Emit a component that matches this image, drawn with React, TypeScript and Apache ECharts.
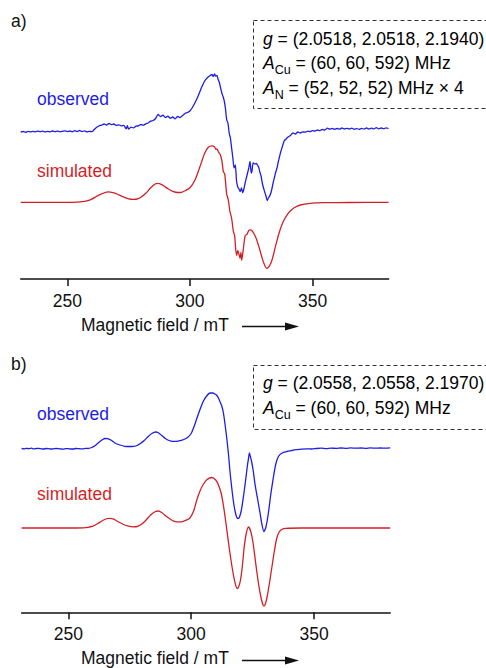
import React, { useEffect, useRef } from "react";
import * as echarts from "echarts";

// Magnetic field (mT) axis
const TICKS = [250, 300, 350];
const X_MIN = 231;
const X_MAX = 381;

// Panel a) – observed EPR spectrum [field mT, intensity a.u.]
const OBS_A: number[][] = [
  [231, 0.0], [232, 0.05], [233, -0.03], [234, 0.06], [235, 0.01], [236, 0.07], [237, 0.02], [238, 0.09],
  [239, 0.03], [240, 0.08], [241, 0.01], [242, 0.06], [243, 0.02], [244, 0.1], [245, 0.03], [246, 0.09],
  [247, 0.02], [248, 0.07], [249, 0.12], [250, 0.04], [251, 0.1], [252, 0.02], [253, 0.13], [254, 0.05],
  [255, 0.15], [256, 0.04], [257, 0.11], [258, 0.01], [259, 0.07], [260, 0.03], [261, 0.25], [262, 0.48],
  [263, 0.62], [264, 0.68], [265, 0.8], [266, 0.7], [267, 0.85], [268, 0.74], [269, 0.8], [270, 0.66],
  [271, 0.72], [272, 0.62], [273, 0.66], [274, 0.32], [274.5, 0.64], [275, 0.28], [276, 0.48], [277, 0.42],
  [278, 0.58], [279, 0.62], [280, 0.75], [281, 0.68], [282, 0.82], [283, 0.9], [284, 1.08], [285, 1.15],
  [286, 1.35], [287, 1.75], [288, 1.55], [289, 1.68], [290, 1.45], [291, 1.58], [292, 1.38], [293, 1.5],
  [294, 1.32], [295, 1.55], [296, 1.45], [297, 1.65], [298, 1.85], [299, 1.95], [300, 2.1], [301, 2.45],
  [302, 2.9], [303, 3.4], [304, 4.0], [305, 4.6], [306, 5.1], [307, 5.4], [308, 5.6], [309, 5.75],
  [309.5, 5.55], [310, 5.8], [310.5, 5.6], [311, 5.65], [311.5, 5.25], [312, 4.95], [312.5, 4.4], [313, 3.9],
  [313.5, 3.55], [314, 3.1], [314.5, 2.3], [315, 1.2], [315.5, 0.9], [316, -0.1], [316.5, -0.6], [317, -1.6],
  [317.5, -2.6], [318, -3.6], [318.5, -3.3], [319, -4.9], [319.5, -5.5], [320, -5.7], [320.5, -5.95], [321, -5.6],
  [321.5, -6.05], [322, -5.7], [322.5, -5.1], [323, -4.6], [323.5, -4.1], [324, -3.6], [324.5, -2.95], [325, -4.1],
  [325.3, -3.9], [325.8, -3.1], [326.5, -3.2], [327, -3.15], [327.5, -3.3], [328, -3.5], [328.5, -4.0], [329, -4.4],
  [329.5, -5.1], [330, -5.6], [330.5, -6.0], [331, -6.4], [331.5, -6.85], [332, -6.6], [332.5, -6.4], [333, -6.1],
  [333.5, -5.6], [334, -5.0], [334.5, -4.5], [335, -4.0], [335.5, -3.6], [336, -3.0], [336.5, -2.5], [337, -2.0],
  [337.5, -1.6], [338, -1.2], [338.5, -0.85], [339, -0.75], [340, -0.5], [341, -0.35], [342, -0.1], [343, -0.2],
  [344, 0.0], [345, -0.1], [346, 0.02], [347, -0.02], [348, 0.08], [349, 0.04], [350, 0.14], [351, 0.1],
  [352, 0.2], [353, 0.14], [354, 0.25], [355, 0.2], [356, 0.38], [357, 0.28], [358, 0.36], [359, 0.27],
  [360, 0.35], [361, 0.28], [362, 0.4], [363, 0.3], [364, 0.36], [365, 0.3], [366, 0.38], [367, 0.27],
  [368, 0.34], [369, 0.26], [370, 0.36], [371, 0.29], [372, 0.4], [373, 0.3], [374, 0.38], [375, 0.31],
  [376, 0.44], [377, 0.32], [378, 0.4], [379, 0.33], [380, 0.42], [381, 0.35],
];

// Panel a) – simulated spectrum
const SIM_A: number[][] = [
  [231, 0], [240, 0], [250, 0], [254, 0.02], [256, 0.06], [258, 0.15], [260, 0.32], [262, 0.6],
  [264, 0.85], [266.5, 1.05], [269, 0.95], [271, 0.75], [273, 0.52], [275, 0.35], [277, 0.3], [278.5, 0.33],
  [280, 0.5], [282, 0.9], [284, 1.45], [286, 1.85], [287.2, 1.9], [289, 1.7], [291, 1.35], [293, 1.1],
  [295, 0.98], [296.6, 1.0], [298, 1.15], [300, 1.45], [302, 2.2], [304, 3.5], [306, 4.9], [307.5, 5.5],
  [309, 5.65], [310, 5.55], [310.6, 5.3], [311, 5.35], [311.6, 5.05], [312.3, 4.8], [313, 4.2], [313.6, 3.1],
  [314.2, 2.8], [315, 0.8], [315.6, 0.3], [316.3, -0.9], [317, -1.6], [317.7, -2.9], [318.2, -3.3], [318.7, -4.8],
  [319.1, -5.3], [319.5, -4.8], [320, -5.2], [320.4, -5.6], [320.8, -5.0], [321.1, -5.8], [321.6, -5.0], [322.2, -3.8],
  [322.6, -3.3], [323.3, -3.2], [324, -2.8], [324.6, -2.75], [325.3, -2.85], [326, -3.1], [327, -3.6], [328, -4.35],
  [329, -5.2], [330, -6.0], [331.3, -6.6], [332.3, -6.4], [333.3, -5.9], [334.3, -5.0], [335.4, -3.9], [336.7, -2.8],
  [338.1, -1.9], [339.5, -1.3], [340.8, -0.9], [342.5, -0.55], [345, -0.27], [349, -0.1], [355, -0.04], [365, -0.02],
  [381, 0],
];

// Panel b) – observed spectrum
const OBS_B: number[][] = [
  [231, 0.0], [232, -0.03], [233, 0.02], [234, -0.02], [235, 0.03], [236, -0.04], [237, 0.0], [238, 0.01],
  [239, -0.03], [240, -0.05], [241, 0.0], [242, -0.02], [243, -0.05], [244, -0.04], [245, 0.0], [246, -0.02],
  [247, -0.05], [248, -0.06], [249, -0.01], [250, -0.02], [251, -0.05], [252, -0.05], [253, 0.0], [254, -0.01],
  [255, -0.04], [256, -0.04], [257, 0.01], [258, 0.0], [259.5, 0.1], [261, 0.3], [262.5, 0.62], [264, 0.9],
  [265, 1.0], [266, 0.98], [267.5, 0.82], [269, 0.55], [271, 0.35], [273, 0.22], [275, 0.2], [276.5, 0.22],
  [278, 0.3], [279.5, 0.52], [281, 0.82], [282.5, 1.2], [284, 1.5], [285.5, 1.65], [286.5, 1.6], [288, 1.3],
  [289.5, 1.0], [291, 0.8], [292.5, 0.72], [294, 0.72], [295.5, 0.78], [297, 0.9], [298.5, 1.1], [300, 1.5],
  [301.2, 2.2], [302.3, 3.0], [303.6, 3.9], [304.9, 4.7], [306.3, 5.25], [307.7, 5.55], [308.7, 5.55], [309.7, 5.45],
  [310.5, 5.3], [311.2, 5.0], [311.7, 4.7], [312.4, 4.3], [313.1, 3.6], [313.8, 2.4], [314.5, 1.0], [315.2, -0.6],
  [315.8, -2.3], [316.5, -3.9], [317.2, -5.3], [317.9, -6.3], [318.5, -6.85], [319.1, -7.0], [319.6, -6.9], [320.4, -6.2],
  [321.2, -4.95], [322.1, -3.3], [322.9, -1.7], [323.4, -0.9], [323.7, -0.45], [324.1, -0.8], [324.6, -1.3], [325.3, -2.3],
  [326.0, -3.6], [327, -5.0], [328.0, -6.4], [328.8, -7.6], [329.6, -8.3], [330.4, -7.9], [331.4, -6.5], [332.4, -4.6],
  [333.4, -2.98], [334.4, -1.6], [335.5, -0.8], [337, -0.45], [338.9, -0.3], [341, -0.2], [343, -0.12], [345, -0.06],
  [347, -0.03], [349, -0.05], [351, 0.0], [353, 0.03], [355, -0.01], [357, 0.04], [359, 0.01], [361, 0.05],
  [363, 0.02], [365, 0.06], [367, 0.03], [369, 0.05], [371, 0.02], [373, 0.06], [375, 0.03], [377, 0.05],
  [379, 0.04], [381, 0.06],
];

// Panel b) – simulated spectrum
const SIM_B: number[][] = [
  [231, 0], [240, 0], [250, 0], [256, 0.02], [258, 0.06], [260, 0.18], [262, 0.45], [264, 0.75],
  [266, 0.95], [267, 0.97], [268.5, 0.88], [270.5, 0.6], [272.5, 0.35], [274.5, 0.18], [276.5, 0.12], [278, 0.15],
  [279.5, 0.32], [281.5, 0.75], [283.5, 1.3], [285.5, 1.65], [286.6, 1.7], [288, 1.55], [290, 1.15], [292, 0.8],
  [294, 0.62], [296, 0.62], [298, 0.78], [299.5, 1.0], [301, 1.7], [302.3, 2.8], [303.6, 3.7], [304.9, 4.35],
  [306.5, 4.85], [308.4, 5.05], [310, 4.8], [311.1, 4.3], [312.2, 3.5], [313.1, 2.3], [314.1, 0.6], [315.1, -1.3],
  [316.2, -3.2], [317.2, -4.7], [318, -5.6], [318.7, -6.05], [319.3, -5.9], [320, -5.3], [320.8, -3.9], [321.5, -2.1],
  [322.3, -0.7], [323.3, 0.1], [324.2, -0.3], [325.1, -1.35], [325.9, -2.8], [326.7, -4.35], [327.5, -5.7], [328.3, -6.8],
  [329.1, -7.6], [329.6, -7.8], [330.2, -7.6], [330.9, -6.9], [331.8, -5.6], [332.8, -4.0], [333.8, -2.4], [334.8, -1.05],
  [335.8, -0.4], [337, -0.12], [338.5, -0.03], [345, 0], [381, 0],
];

const PANEL_LABELS = ["a)", "b)"];
const TRACE_LABELS = ["observed", "simulated"];
const AXIS_NAME = "Magnetic field / mT";

const FONT = "'Liberation Sans', Arial, Helvetica, sans-serif";
const BLUE = "#1d1de8";
const RED = "#d21f26";
const INK = "#111111";
const FS = 17.5;

// vertical stacking offsets of the traces (a.u.)
const OFFSETS = { obsA: 14.7, simA: 7.67, obsB: 16.38, simB: 8.43 };

const shift = (d: number[][], o: number) => d.map(([x, y]) => [x, y + o]);

export default function App() {
  const ref = useRef<HTMLDivElement>(null);
  useEffect(() => {
    if (!ref.current) return;
    const chart = echarts.init(ref.current, undefined, { renderer: "svg" });

    const xAxisCfg = (i: number) => ({
      type: "value",
      gridIndex: i,
      min: X_MIN,
      max: X_MAX,
      axisLine: { show: true, onZero: false, lineStyle: { color: INK, width: 1.5 } },
      axisTick: { show: true, length: 7, customValues: TICKS, lineStyle: { color: INK, width: 1.5 } },
      axisLabel: { customValues: TICKS, margin: 13, fontSize: FS, color: INK, fontFamily: FONT },
      splitLine: { show: false },
    });
    const yAxisCfg = (i: number) => ({ type: "value", gridIndex: i, min: 0, max: 23, show: false });
    const line = (data: number[][], color: string, i: number) => ({
      type: "line",
      xAxisIndex: i,
      yAxisIndex: i,
      data,
      showSymbol: false,
      smooth: 0.25,
      lineStyle: { color, width: 1.3 },
      silent: true,
    });

    const txt = (text: string, x: number, y: number, color: string) => ({
      type: "text",
      x,
      y,
      style: { text, fill: color, font: `${FS}px ${FONT}`, textVerticalAlign: "middle" },
    });
    const rich = {
      i: { fontStyle: "italic", fontSize: FS, fontFamily: FONT, color: INK, lineHeight: 26, verticalAlign: "middle" },
      n: { fontSize: FS, fontFamily: FONT, color: INK, lineHeight: 26, verticalAlign: "middle" },
      s: { fontSize: 12.5, fontFamily: FONT, color: INK, verticalAlign: "bottom" },
    };
    const richTxt = (text: string, x: number, y: number) => ({
      type: "text",
      x,
      y,
      style: { text, rich, verticalAlign: "middle", textVerticalAlign: "middle" },
    });
    const box = (y: number, h: number) => ({
      type: "rect",
      shape: { x: 253.5, y, width: 240, height: h },
      style: { fill: "none", stroke: "#333", lineWidth: 1, lineDash: [4, 3] },
    });
    const arrow = (y: number) => [
      { type: "line", shape: { x1: 242, y1: y, x2: 288, y2: y }, style: { stroke: INK, lineWidth: 1.3 } },
      { type: "polygon", shape: { points: [[285, y - 4], [299, y], [285, y + 4]] }, style: { fill: INK } },
    ];

    const option = {
      animation: false,
      grid: [
        { left: 20.7, top: 49, width: 367.9, height: 230 },
        { left: 21.6, top: 382.3, width: 368.6, height: 230 },
      ],
      xAxis: [xAxisCfg(0), xAxisCfg(1)],
      yAxis: [yAxisCfg(0), yAxisCfg(1)],
      series: [
        line(shift(OBS_A, OFFSETS.obsA), BLUE, 0),
        line(shift(SIM_A, OFFSETS.simA), RED, 0),
        line(shift(OBS_B, OFFSETS.obsB), BLUE, 1),
        line(shift(SIM_B, OFFSETS.simB), RED, 1),
      ],
      graphic: [
        txt(PANEL_LABELS[0], 11, 21, INK),
        txt(PANEL_LABELS[1], 11, 364, INK),
        txt(TRACE_LABELS[0], 37, 99, BLUE),
        txt(TRACE_LABELS[1], 37, 171, RED),
        txt(TRACE_LABELS[0], 37, 414, BLUE),
        txt(TRACE_LABELS[1], 37, 494, RED),
        txt(AXIS_NAME, 81, 325, INK),
        txt(AXIS_NAME, 81, 658, INK),
        ...arrow(326.5),
        ...arrow(660.5),
        box(20.5, 88),
        box(365.5, 64),
        richTxt("{i|g}{n| = (2.0518, 2.0518, 2.1940)}", 263, 39),
        richTxt("{i|A}{s|Cu}{n| = (60, 60, 592) MHz}", 263, 63),
        richTxt("{i|A}{s|N}{n| = (52, 52, 52) MHz × 4}", 263, 88),
        richTxt("{i|g}{n| = (2.0558, 2.0558, 2.1970)}", 263, 383),
        richTxt("{i|A}{s|Cu}{n| = (60, 60, 592) MHz}", 263, 408),
      ],
    };
    chart.setOption(option as any);
    return () => chart.dispose();
  }, []);

  return (
    <div
      ref={ref}
      style={{ position: "fixed", left: 0, top: 0, width: 486, height: 668, background: "#fff" }}
    />
  );
}
